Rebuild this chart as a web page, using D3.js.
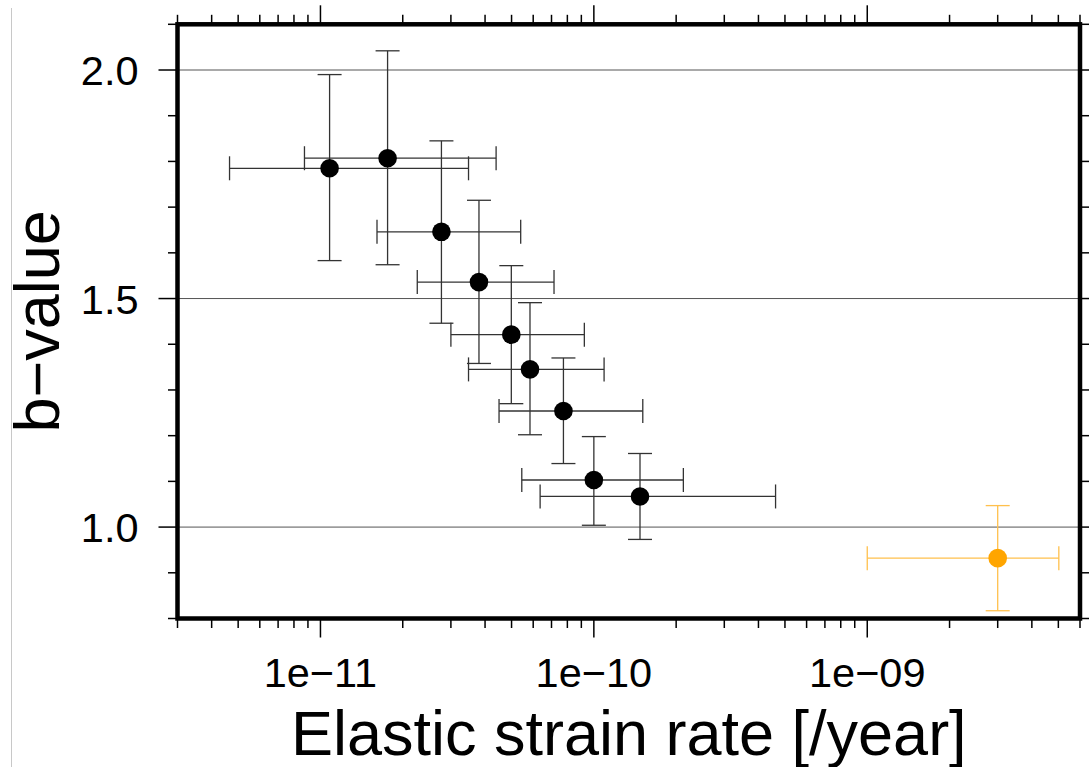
<!DOCTYPE html>
<html>
	<head>
		<meta charset="utf-8" />
		<script src="https://cdn.jsdelivr.net/npm/d3@7/dist/d3.min.js" charset="utf-8"></script>
		<title>b-value vs strain rate</title>
		<style>
			body { margin: 0; background: #fff; }
			text { font-family: "Liberation Sans", Arial, sans-serif; fill: #000; }
		</style>
	</head>
	<body>
<script>
// values
var rate   = [1.08e-11, 1.76e-11, 2.77e-11, 3.80e-11, 4.99e-11, 5.84e-11, 7.74e-11, 1.00e-10, 1.475e-10, 3.0e-9]
var rateLo = [4.65e-12, 8.74e-12, 1.61e-11, 2.26e-11, 3.00e-11, 3.48e-11, 4.50e-11, 5.45e-11, 6.36e-11, 1.0e-9]
var rateHi = [3.48e-11, 4.39e-11, 5.40e-11, 7.15e-11, 9.23e-11, 1.09e-10, 1.51e-10, 2.125e-10, 4.62e-10, 5.02e-9]
var bValue = [1.785, 1.807, 1.646, 1.536, 1.421, 1.345, 1.254, 1.103, 1.067, 0.932]
var bLo    = [1.583, 1.574, 1.446, 1.358, 1.270, 1.202, 1.139, 1.004, 0.973, 0.817]
var bHi    = [1.990, 2.042, 1.845, 1.715, 1.572, 1.491, 1.370, 1.198, 1.161, 1.047]
var group  = ["fit", "fit", "fit", "fit", "fit", "fit", "fit", "fit", "fit", "other"]

var xDomain = [3e-12, 6e-9]
var yDomain = [0.8, 2.1]
var xMajor = [1e-11, 1e-10, 1e-9]
var xMajorLabels = ["1e\u221211", "1e\u221210", "1e\u221209"]
var yMajor = [1.0, 1.5, 2.0]
var yMajorLabels = ["1.0", "1.5", "2.0"]

var w = 1089
var h = 767
var pL = 177.5, pR = 1080, pT = 24.3, pB = 618.5

var svg = d3.select("body")
		.append("svg")
		.attr("width", w)
		.attr("height", h)

var x = d3.scaleLog().domain(xDomain).range([pL, pR])
var y = d3.scaleLinear().domain(yDomain).range([pB, pT])

var xMinor = x.ticks().filter(function(t) { return xMajor.indexOf(t) < 0 })
var yMinor = d3.range(8, 22).map(function(d) { return d / 10 })
	.filter(function(t) { return yMajor.indexOf(t) < 0 })

// page edge line seen in the picture
svg.append("line")
	.attr("x1", 11.5).attr("x2", 11.5)
	.attr("y1", 8).attr("y2", h)
	.attr("stroke", "#c8c8c8")
	.attr("stroke-width", 1)

// grid
svg.append("g").selectAll("line")
	.data(yMajor)
	.enter().append("line")
	.attr("x1", pL).attr("x2", pR)
	.attr("y1", function(d) { return y(d) })
	.attr("y2", function(d) { return y(d) })
	.attr("stroke", "#555")
	.attr("stroke-width", 1)

// ticks on all four sides
var tickLen = function(major) { return major ? 19 : 9.5 }
var ticks = svg.append("g").attr("stroke", "#000").attr("stroke-width", 1.5)
var xAll = xMajor.map(function(t) { return [t, true] }).concat(xMinor.map(function(t) { return [t, false] }))
var yAll = yMajor.map(function(t) { return [t, true] }).concat(yMinor.map(function(t) { return [t, false] }))

ticks.selectAll(".xb").data(xAll).enter().append("line")
	.attr("x1", function(d) { return x(d[0]) }).attr("x2", function(d) { return x(d[0]) })
	.attr("y1", pB).attr("y2", function(d) { return pB + tickLen(d[1]) })
ticks.selectAll(".xt").data(xAll).enter().append("line")
	.attr("x1", function(d) { return x(d[0]) }).attr("x2", function(d) { return x(d[0]) })
	.attr("y1", pT).attr("y2", function(d) { return pT - tickLen(d[1]) })
ticks.selectAll(".yl").data(yAll).enter().append("line")
	.attr("y1", function(d) { return y(d[0]) }).attr("y2", function(d) { return y(d[0]) })
	.attr("x1", pL).attr("x2", function(d) { return pL - tickLen(d[1]) })
ticks.selectAll(".yr").data(yAll).enter().append("line")
	.attr("y1", function(d) { return y(d[0]) }).attr("y2", function(d) { return y(d[0]) })
	.attr("x1", pR).attr("x2", function(d) { return pR + tickLen(d[1]) })

// tick labels
svg.append("g").selectAll("text")
	.data(xMajor)
	.enter().append("text")
	.attr("x", function(d) { return x(d) })
	.attr("y", 687)
	.attr("text-anchor", "middle")
	.attr("font-size", 41.5)
	.text(function(d, i) { return xMajorLabels[i] })

svg.append("g").selectAll("text")
	.data(yMajor)
	.enter().append("text")
	.attr("x", 138.5)
	.attr("y", function(d) { return y(d) + 15 })
	.attr("text-anchor", "end")
	.attr("font-size", 41.5)
	.text(function(d, i) { return yMajorLabels[i] })

// axis titles
svg.append("text")
	.attr("x", (pL + pR) / 2)
	.attr("y", 755)
	.attr("text-anchor", "middle")
	.attr("font-size", 63)
	.text("Elastic strain rate [/year]")

svg.append("text")
	.attr("transform", "translate(58.5," + ((pT + pB) / 2) + ") rotate(-90)")
	.attr("text-anchor", "middle")
	.attr("font-size", 63)
	.text("b\u2212value")

// error bars and points
var pts = d3.range(rate.length)
var barColor = function(i) { return group[i] == "fit" ? "#333" : "#ffc04d" }
var dotColor = function(i) { return group[i] == "fit" ? "#000" : "#ffa500" }
var cap = 12

var eb = svg.append("g").attr("fill", "none").attr("stroke-width", 1.3)
pts.forEach(function(i) {
	var g = eb.append("g").attr("stroke", barColor(i))
	var cx = x(rate[i]), cy = y(bValue[i])
	g.append("line").attr("x1", cx).attr("x2", cx).attr("y1", y(bLo[i])).attr("y2", y(bHi[i]))
	g.append("line").attr("x1", cx - cap).attr("x2", cx + cap).attr("y1", y(bLo[i])).attr("y2", y(bLo[i]))
	g.append("line").attr("x1", cx - cap).attr("x2", cx + cap).attr("y1", y(bHi[i])).attr("y2", y(bHi[i]))
	g.append("line").attr("x1", x(rateLo[i])).attr("x2", x(rateHi[i])).attr("y1", cy).attr("y2", cy)
	g.append("line").attr("x1", x(rateLo[i])).attr("x2", x(rateLo[i])).attr("y1", cy - cap).attr("y2", cy + cap)
	g.append("line").attr("x1", x(rateHi[i])).attr("x2", x(rateHi[i])).attr("y1", cy - cap).attr("y2", cy + cap)
})

svg.append("g").selectAll("circle")
	.data(pts)
	.enter().append("circle")
	.attr("cx", function(i) { return x(rate[i]) })
	.attr("cy", function(i) { return y(bValue[i]) })
	.attr("r", 9.3)
	.attr("fill", function(i) { return dotColor(i) })

// frame
svg.append("rect")
	.attr("x", pL)
	.attr("y", pT)
	.attr("width", pR - pL)
	.attr("height", pB - pT)
	.attr("fill", "none")
	.attr("stroke", "black")
	.attr("stroke-width", 4.5)
</script>
	</body>
</html>
